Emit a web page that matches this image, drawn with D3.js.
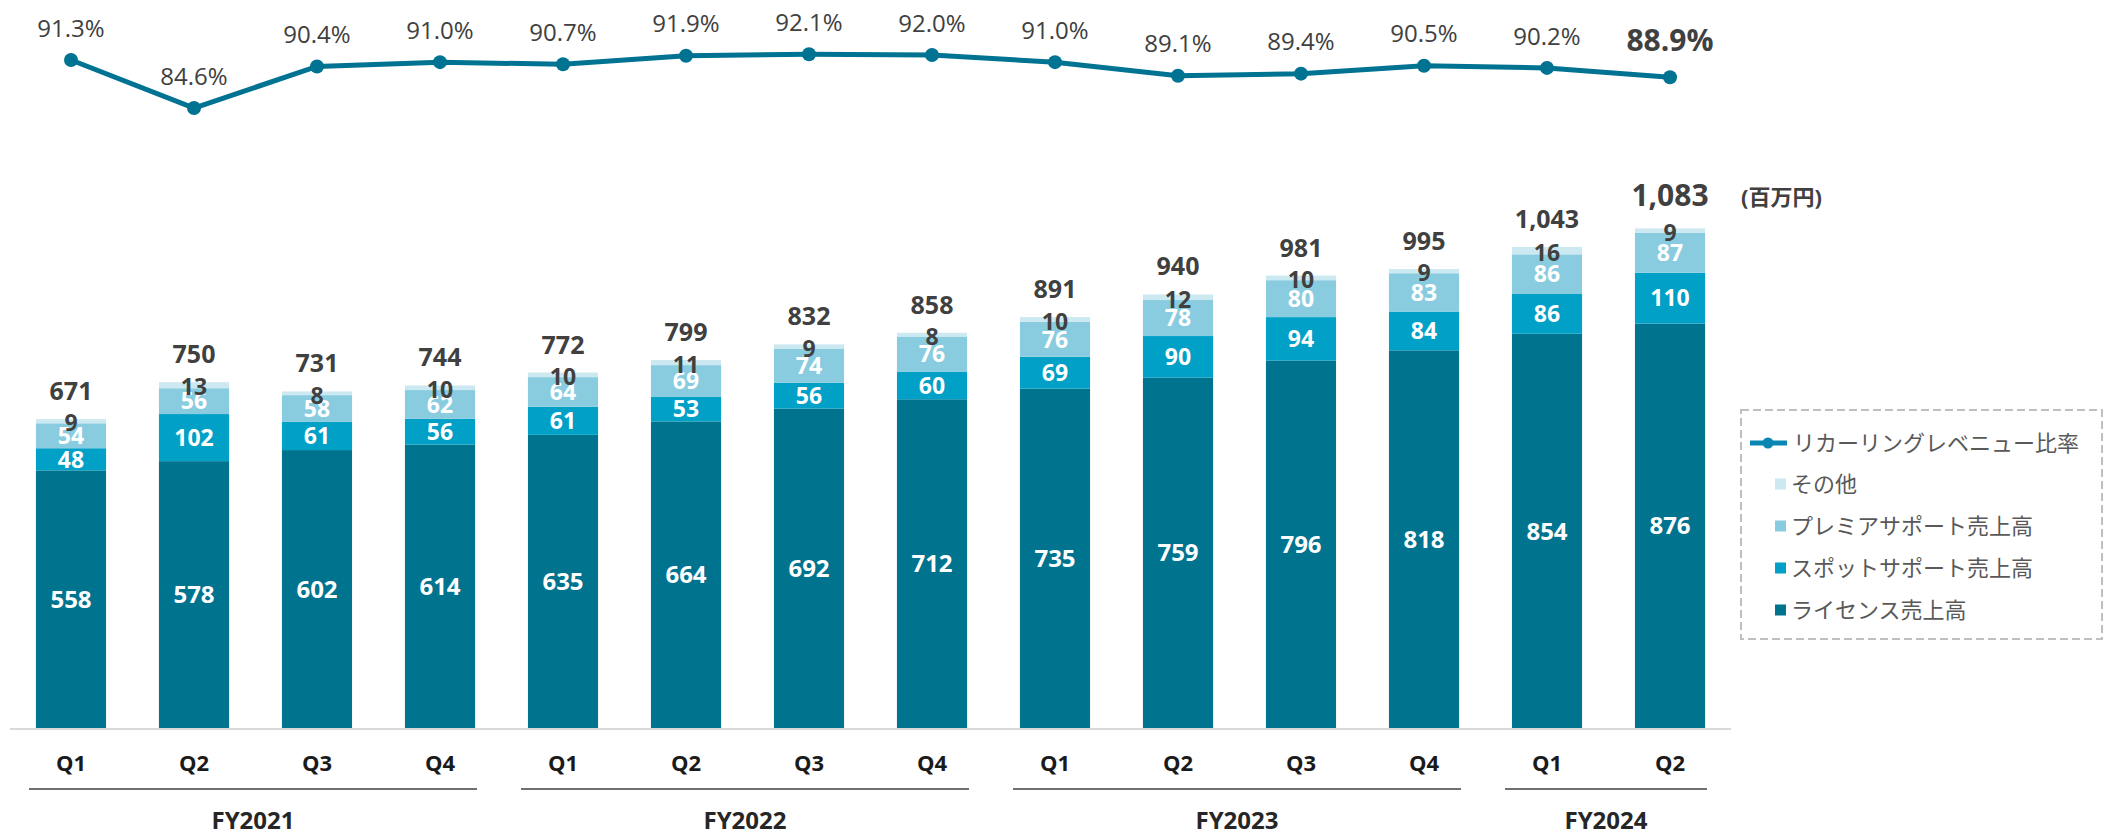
<!DOCTYPE html>
<html>
<head>
<meta charset="utf-8">
<script src="https://cdn.jsdelivr.net/npm/d3@7"></script>
<style>
  body { margin: 0; background: #fff; }
  svg text { font-family: "Open Sans", "Noto Sans CJK JP", sans-serif; }
</style>
</head>
<body>
<div id="chart"></div>
<script>
// quarter labels and fiscal year groups
var quarters = ["Q1", "Q2", "Q3", "Q4", "Q1", "Q2", "Q3", "Q4", "Q1", "Q2", "Q3", "Q4", "Q1", "Q2"];
var fiscalYears = ["FY2021", "FY2022", "FY2023", "FY2024"];
var fiscalYearCounts = [4, 4, 4, 2];

// revenue (百万円)
var licenseSales = [558, 578, 602, 614, 635, 664, 692, 712, 735, 759, 796, 818, 854, 876];
var spotSupport = [48, 102, 61, 56, 61, 53, 56, 60, 69, 90, 94, 84, 86, 110];
var premiumSupport = [54, 56, 58, 62, 64, 69, 74, 76, 76, 78, 80, 83, 86, 87];
var otherSales = [9, 13, 8, 10, 10, 11, 9, 8, 10, 12, 10, 9, 16, 9];
var totals = [671, 750, 731, 744, 772, 799, 832, 858, 891, 940, 981, 995, 1043, 1083];

// recurring revenue ratio (%)
var recurringRatio = [91.3, 84.6, 90.4, 91.0, 90.7, 91.9, 92.1, 92.0, 91.0, 89.1, 89.4, 90.5, 90.2, 88.9];

var seriesNames = ["ライセンス売上高", "スポットサポート売上高", "プレミアサポート売上高", "その他"];
var lineName = "リカーリングレベニュー比率";

var width = 2104,
    height = 837;

var colors = ["#00738F", "#00A0C7", "#8ACCDF", "#CCE8F0"];
var lineColor = "#017392";
var textDark = "#404040";

var svg = d3.select("#chart")
    .append("svg")
    .attr("width", width)
    .attr("height", height);

var idx = d3.range(quarters.length);
var lastIdx = idx.length - 1;

var x = d3.scaleBand()
    .domain(idx)
    .range([9.5, 1731.5])
    .paddingInner(0.43)
    .paddingOuter(0.215);

var y = d3.scaleLinear()
    .domain([0, 1083])
    .range([728, 228]);

var yRatio = d3.scaleLinear()
    .domain([80, 95])
    .range([141, 33.5]);

var rows = idx.map(function (i) {
    return {
        i: i,
        license: licenseSales[i],
        spot: spotSupport[i],
        premium: premiumSupport[i],
        other: otherSales[i]
    };
});
var keys = ["license", "spot", "premium", "other"];
var stacked = d3.stack().keys(keys)(rows);

function cx(i) {
    return x(i) + x.bandwidth() / 2;
}

// stacked bars
var layers = svg.selectAll("g.layer")
    .data(stacked)
    .enter()
    .append("g")
    .attr("class", "layer")
    .attr("fill", function (d, k) { return colors[k]; });

layers.selectAll("rect")
    .data(function (d) { return d; })
    .enter()
    .append("rect")
    .attr("x", function (d) { return x(d.data.i); })
    .attr("width", x.bandwidth())
    .attr("y", function (d) { return y(d[1]); })
    .attr("height", function (d) { return y(d[0]) - y(d[1]); });

// segment labels
layers.each(function (layer, k) {
    d3.select(this).selectAll("text")
        .data(layer)
        .enter()
        .append("text")
        .attr("x", function (d) { return cx(d.data.i); })
        .attr("y", function (d) {
            var mid = (y(d[0]) + y(d[1])) / 2;
            return k === 3 ? mid + 2 : mid;
        })
        .attr("dy", "0.36em")
        .attr("text-anchor", "middle")
        .attr("font-weight", "bold")
        .attr("font-size", k === 0 ? 24 : 23)
        .attr("fill", k === 3 ? textDark : "#fff")
        .text(function (d) { return d.data[layer.key]; });
});

// total labels
svg.selectAll("text.total")
    .data(idx)
    .enter()
    .append("text")
    .attr("class", "total")
    .attr("x", cx)
    .attr("y", function (i) {
        var top = y(stacked[3][i][1]);
        return i === lastIdx ? top - 22 : top - 19;
    })
    .attr("text-anchor", "middle")
    .attr("font-weight", "bold")
    .attr("font-size", function (i) { return i === lastIdx ? 30 : 25; })
    .attr("fill", textDark)
    .text(function (i) { return d3.format(",")(totals[i]); });

// unit label
svg.append("text")
    .attr("x", 1741)
    .attr("y", 197)
    .attr("dy", "0.36em")
    .attr("font-weight", "bold")
    .attr("font-size", 22)
    .attr("fill", textDark)
    .text("(百万円)");

// baseline
svg.append("line")
    .attr("x1", 10)
    .attr("x2", 1731)
    .attr("y1", 729)
    .attr("y2", 729)
    .attr("stroke", "#d9d9d9")
    .attr("stroke-width", 2);

// quarter labels
svg.selectAll("text.q")
    .data(idx)
    .enter()
    .append("text")
    .attr("class", "q")
    .attr("x", cx)
    .attr("y", 763)
    .attr("dy", "0.36em")
    .attr("text-anchor", "middle")
    .attr("font-weight", "bold")
    .attr("font-size", 22)
    .attr("fill", "#1a1a1a")
    .text(function (i) { return quarters[i]; });

// fiscal year brackets
var start = 0;
fiscalYears.forEach(function (fy, g) {
    var first = start,
        last = start + fiscalYearCounts[g] - 1;
    var x1 = cx(first) - 42,
        x2 = cx(last) + 37;
    svg.append("line")
        .attr("x1", x1)
        .attr("x2", x2)
        .attr("y1", 789)
        .attr("y2", 789)
        .attr("stroke", "#404040")
        .attr("stroke-width", 1.5);
    svg.append("text")
        .attr("x", (x1 + x2) / 2)
        .attr("y", 820)
        .attr("dy", "0.36em")
        .attr("text-anchor", "middle")
        .attr("font-weight", "bold")
        .attr("font-size", 24)
        .attr("fill", "#262626")
        .text(fy);
    start = last + 1;
});

// recurring ratio line
var line = d3.line()
    .x(function (d, i) { return cx(i); })
    .y(function (d) { return yRatio(d); });

svg.append("path")
    .datum(recurringRatio)
    .attr("fill", "none")
    .attr("stroke", lineColor)
    .attr("stroke-width", 5)
    .attr("d", line);

svg.selectAll("circle.pt")
    .data(recurringRatio)
    .enter()
    .append("circle")
    .attr("class", "pt")
    .attr("cx", function (d, i) { return cx(i); })
    .attr("cy", function (d) { return yRatio(d); })
    .attr("r", 7)
    .attr("fill", lineColor);

svg.selectAll("text.ratio")
    .data(recurringRatio)
    .enter()
    .append("text")
    .attr("class", "ratio")
    .attr("x", function (d, i) { return cx(i); })
    .attr("y", function (d, i) {
        return yRatio(d) - (i === lastIdx ? 37 : 32);
    })
    .attr("dy", "0.36em")
    .attr("text-anchor", "middle")
    .attr("font-weight", function (d, i) { return i === lastIdx ? "bold" : "normal"; })
    .attr("font-size", function (d, i) { return i === lastIdx ? 30 : 24; })
    .attr("fill", textDark)
    .text(function (d) { return d.toFixed(1) + "%"; });

// legend
var legend = svg.append("g");
legend.append("rect")
    .attr("x", 1741)
    .attr("y", 410)
    .attr("width", 361)
    .attr("height", 229)
    .attr("fill", "none")
    .attr("stroke", "#bfbfbf")
    .attr("stroke-width", 2)
    .attr("stroke-dasharray", "8,4");

legend.append("line")
    .attr("x1", 1750)
    .attr("x2", 1787)
    .attr("y1", 443)
    .attr("y2", 443)
    .attr("stroke", "#0A86B2")
    .attr("stroke-width", 5);
legend.append("circle")
    .attr("cx", 1768)
    .attr("cy", 443)
    .attr("r", 5.5)
    .attr("fill", "#0A86B2");
legend.append("text")
    .attr("x", 1793)
    .attr("y", 443)
    .attr("dy", "0.36em")
    .attr("font-size", 22)
    .attr("fill", "#595959")
    .text(lineName);

var legendOrder = [3, 2, 1, 0];
legendOrder.forEach(function (k, j) {
    var ly = 484 + j * 42;
    legend.append("rect")
        .attr("x", 1775)
        .attr("y", ly - 5.5)
        .attr("width", 11)
        .attr("height", 11)
        .attr("fill", colors[k]);
    legend.append("text")
        .attr("x", 1791)
        .attr("y", ly)
        .attr("dy", "0.36em")
        .attr("font-size", 22)
        .attr("fill", "#595959")
        .text(seriesNames[k]);
});
</script>
</body>
</html>
